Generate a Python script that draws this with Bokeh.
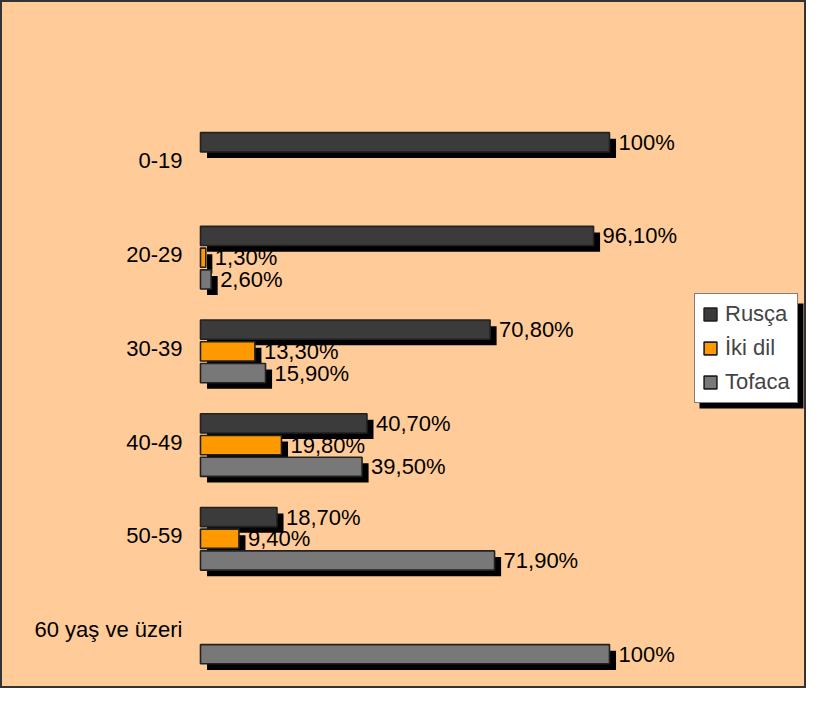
from bokeh.plotting import figure
from bokeh.models import ColumnDataSource, Range1d, Legend, LegendItem, BoxAnnotation
from bokeh.transform import dodge
from bokeh.core.properties import value
from bokeh.embed import file_html
from bokeh.resources import INLINE

# ---- data ----
categories = ["0-19", "20-29", "30-39", "40-49", "50-59", "60 yaş ve üzeri"]
series_names = ["Rusça", "İki dil", "Tofaca"]
rusca = [100, 96.1, 70.8, 40.7, 18.7, 0]
iki_dil = [0, 1.3, 13.3, 19.8, 9.4, 0]
tofaca = [0, 2.6, 15.9, 39.5, 71.9, 100]

# ---- styles ----
BG = "#FFCC99"
FONT = "Liberation Sans"
FSIZE = "22px"
fills = ["#3b3b3b", "#FF9900", "#787878"]
offsets = [-0.232, 0.0, 0.232]
BAR_H = 0.205
SDX = 1.6    # shadow shift right (data units)
SDY = 0.065  # shadow shift down (data units, y axis is flipped)


def fmt(v):
    if float(v).is_integer():
        return f"{int(v)}%"
    return f"{v:.2f}".replace(".", ",") + "%"


p = figure(width=806, height=688,
           x_range=Range1d(-48.9, 148.17),
           y_range=Range1d(5.598, -1.745),
           x_axis_type=None, y_axis_type=None,
           min_border=0, toolbar_location=None, output_backend="svg",
           background_fill_color=BG, border_fill_color=BG,
           outline_line_color="#333333", outline_line_width=3)
p.grid.visible = False

renderers = []
for name, vals, col, off in zip(series_names, [rusca, iki_dil, tofaca], fills, offsets):
    idx = [i for i, v in enumerate(vals) if v > 0]
    src = ColumnDataSource(dict(
        y=idx,
        v=[vals[i] for i in idx],
        lab=[fmt(vals[i]) for i in idx],
    ))
    # shadow
    p.hbar(y=dodge("y", off + SDY), left=SDX, right=dodge("v", SDX), height=BAR_H,
           source=src, fill_color="black", line_color=None)
    # bar
    r = p.hbar(y=dodge("y", off), left=0, right="v", height=BAR_H, source=src,
               fill_color=col, line_color="#222222", line_width=1.6)
    renderers.append(r)
    # value labels
    p.text(x="v", y=dodge("y", off), text="lab", source=src, x_offset=9,
           text_align="left", text_baseline="middle",
           text_font=value(FONT), text_font_size=FSIZE, text_color="black")

# category labels
cat_src = ColumnDataSource(dict(y=list(range(len(categories))), x=[0] * len(categories),
                                lab=categories))
p.text(x="x", y="y", text="lab", source=cat_src, x_offset=-18, y_offset=-3,
       text_align="right", text_baseline="middle",
       text_font=value(FONT), text_font_size=FSIZE, text_color="black")

# legend shadow
shadow = BoxAnnotation(left=699, right=803, bottom=280, top=385,
                       left_units="screen", right_units="screen",
                       top_units="screen", bottom_units="screen",
                       fill_color="black", fill_alpha=1.0, line_color=None)
p.add_layout(shadow)

legend = Legend(items=[LegendItem(label=n, renderers=[r]) for n, r in zip(series_names, renderers)],
                location=(694, 285), background_fill_color="white", background_fill_alpha=1.0,
                border_line_color="black", border_line_width=1,
                label_text_font=FONT, label_text_font_size=FSIZE,
                glyph_width=16, glyph_height=16, label_standoff=7,
                spacing=8, padding=7, margin=0)
p.add_layout(legend)

open("out.html", "w").write(file_html(p, INLINE))
